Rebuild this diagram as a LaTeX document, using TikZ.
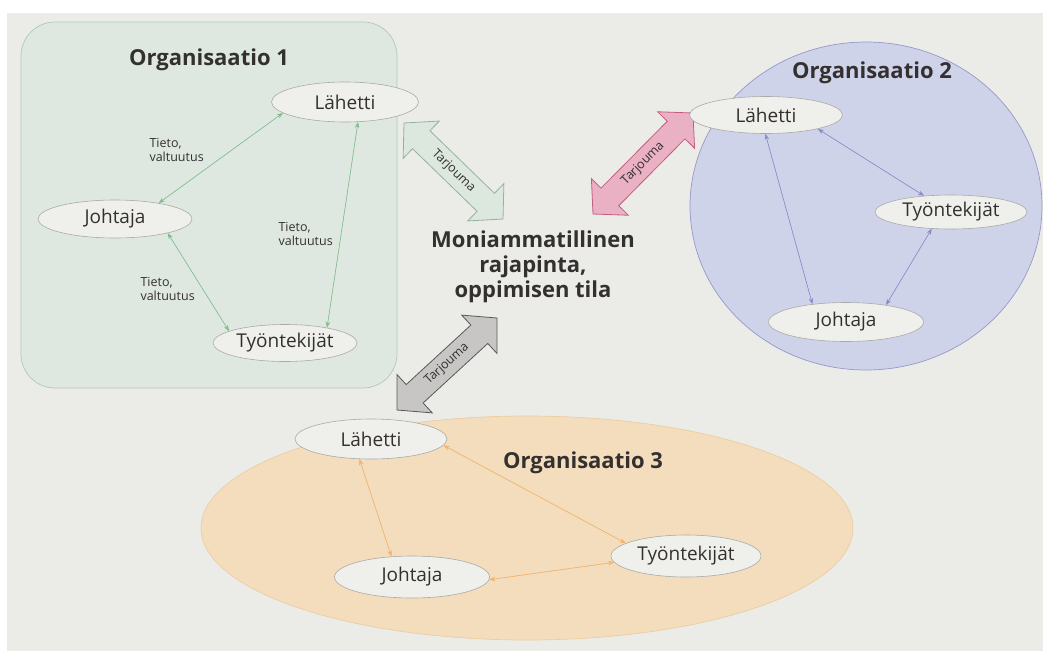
\documentclass[tikz,border=0pt]{standalone}
\usepackage{fontspec}
\setmainfont{Open Sans}
\usetikzlibrary{arrows.meta,calc,shapes.geometric}

\definecolor{page}{RGB}{235,236,232}
\definecolor{ink}{RGB}{52,48,48}
\definecolor{orgA}{RGB}{222,232,225}
\definecolor{orgAline}{RGB}{180,198,186}
\definecolor{orgB}{RGB}{207,211,233}
\definecolor{orgBline}{RGB}{150,152,200}
\definecolor{orgC}{RGB}{243,221,188}
\definecolor{orgCline}{RGB}{236,205,162}
\definecolor{bubble}{RGB}{239,239,236}
\definecolor{bubbleline}{RGB}{170,170,168}
\definecolor{linkA}{RGB}{128,188,140}
\definecolor{linkB}{RGB}{138,138,200}
\definecolor{linkC}{RGB}{240,178,108}
\definecolor{fatG}{RGB}{220,231,221}
\definecolor{fatGline}{RGB}{150,178,158}
\definecolor{fatP}{RGB}{234,176,195}
\definecolor{fatPline}{RGB}{196,92,128}
\definecolor{fatK}{RGB}{200,198,196}
\definecolor{fatKline}{RGB}{88,88,88}

\tikzset{
  role/.style={ellipse, draw=bubbleline, line width=0.6pt, fill=bubble,
    inner sep=0pt, text=ink, font=\fontsize{19}{22}\selectfont},
  orgtitle/.style={text=ink, font=\fontsize{22}{26}\selectfont\bfseries},
  note/.style={text=ink, align=left, anchor=west,
    font=\fontsize{12.5}{14}\selectfont},
  linkbase/.style={<->, line width=0.6pt,
    >={Stealth[length=6pt,width=4.5pt]}},
  offer/.style={text=ink, font=\fontsize{12.5}{14}\selectfont, sloped, inner sep=0pt},
}

% double-headed block arrow between two named tips
\newcommand\fatarrow[3]{%
  \coordinate (#1m) at ($(#1)!24pt!(#2)$);
  \coordinate (#2m) at ($(#2)!24pt!(#1)$);
  \draw[#3, line width=0.8pt, line join=miter]
    (#1) -- ($(#1m)!26pt!90:(#2)$) -- ($(#1m)!12.5pt!90:(#2)$)
    -- ($(#2m)!12.5pt!-90:(#1)$) -- ($(#2m)!26pt!-90:(#1)$)
    -- (#2) -- ($(#2m)!26pt!90:(#1)$) -- ($(#2m)!12.5pt!90:(#1)$)
    -- ($(#1m)!12.5pt!-90:(#2)$) -- ($(#1m)!26pt!-90:(#2)$) -- cycle;
}

\begin{document}
\begin{tikzpicture}[x=1pt,y=-1pt]
\useasboundingbox (0,0) rectangle (1043,651);
\fill[white] (0,0) rectangle (1043,651);
\fill[page] (7,13) rectangle (1043,651);

% organisation areas
\node[draw=orgAline, fill=orgA, line width=0.7pt, rounded corners=34pt,
  minimum width=376pt, minimum height=366pt, inner sep=0pt] (org1) at (209,205) {};
\node[ellipse, draw=orgBline, fill=orgB, line width=0.7pt,
  minimum width=352pt, minimum height=328pt, inner sep=0pt] (org2) at (866,206) {};
\node[ellipse, draw=orgCline, fill=orgC, line width=0.7pt,
  minimum width=652pt, minimum height=224pt, inner sep=0pt] (org3) at (527,528) {};

% offers towards the shared space
\coordinate (gA) at (404,123); \coordinate (gB) at (503,219);
\coordinate (pA) at (593,214); \coordinate (pB) at (693,113);
\coordinate (kA) at (397,410); \coordinate (kB) at (497,318);
\fatarrow{gA}{gB}{draw=fatGline, fill=fatG}
\fatarrow{pA}{pB}{draw=fatPline, fill=fatP}
\fatarrow{kA}{kB}{draw=fatKline, fill=fatK}
\path (gA) -- node[offer] {Tarjouma} (gB);
\path (pA) -- node[offer] {Tarjouma} (pB);
\path (kA) -- node[offer] {Tarjouma} (kB);

% Organisaatio 1
\node[orgtitle] (t1) at (209,60) {Organisaatio 1};
\node[role, minimum width=147pt, minimum height=40pt] (l1) at (345,102) {Lähetti};
\node[role, minimum width=154pt, minimum height=38pt] (j1) at (115,219) {Johtaja};
\node[role, minimum width=144pt, minimum height=37pt] (w1) at (285,343) {Työntekijät};
\draw[linkbase, draw=linkA, fill=linkA] (l1.190) -- (j1.20);
\draw[linkbase, draw=linkA, fill=linkA] (l1.303) -- (w1.20);
\draw[linkbase, draw=linkA, fill=linkA] (j1.345) -- (w1.168);
\node[note] (n1) at (146,150) {Tieto,\\valtuutus};
\node[note] (n2) at (275,234) {Tieto,\\valtuutus};
\node[note] (n3) at (137,289) {Tieto,\\valtuutus};

% Organisaatio 2
\node[orgtitle] (t2) at (872,73) {Organisaatio 2};
\node[role, minimum width=153pt, minimum height=37pt] (l2) at (766,115) {Lähetti};
\node[role, minimum width=152pt, minimum height=34pt] (w2) at (951,212) {Työntekijät};
\node[role, minimum width=155pt, minimum height=39pt] (j2) at (846,322) {Johtaja};
\draw[linkbase, draw=linkB, fill=linkB] (l2.268) -- (j2.152);
\draw[linkbase, draw=linkB, fill=linkB] (l2.345) -- (w2.149);
\draw[linkbase, draw=linkB, fill=linkB] (w2.221) -- (j2.23);

% Organisaatio 3
\node[orgtitle] (t3) at (583,463) {Organisaatio 3};
\node[role, minimum width=152pt, minimum height=40pt] (l3) at (371,439) {Lähetti};
\node[role, minimum width=155pt, minimum height=42pt] (j3) at (412,577) {Johtaja};
\node[role, minimum width=150pt, minimum height=42pt] (w3) at (686,556) {Työntekijät};
\draw[linkbase, draw=linkC, fill=linkC] (l3.240) -- (j3.135);
\draw[linkbase, draw=linkC, fill=linkC] (l3.355) -- (w3.168);
\draw[linkbase, draw=linkC, fill=linkC] (j3.358) -- (w3.185);

% shared space in the middle
\node[text=ink, align=center, font=\fontsize{22}{25}\selectfont\bfseries] (mid)
  at (533,267) {Moniammatillinen\\rajapinta,\\oppimisen tila};
\end{tikzpicture}
\end{document}
